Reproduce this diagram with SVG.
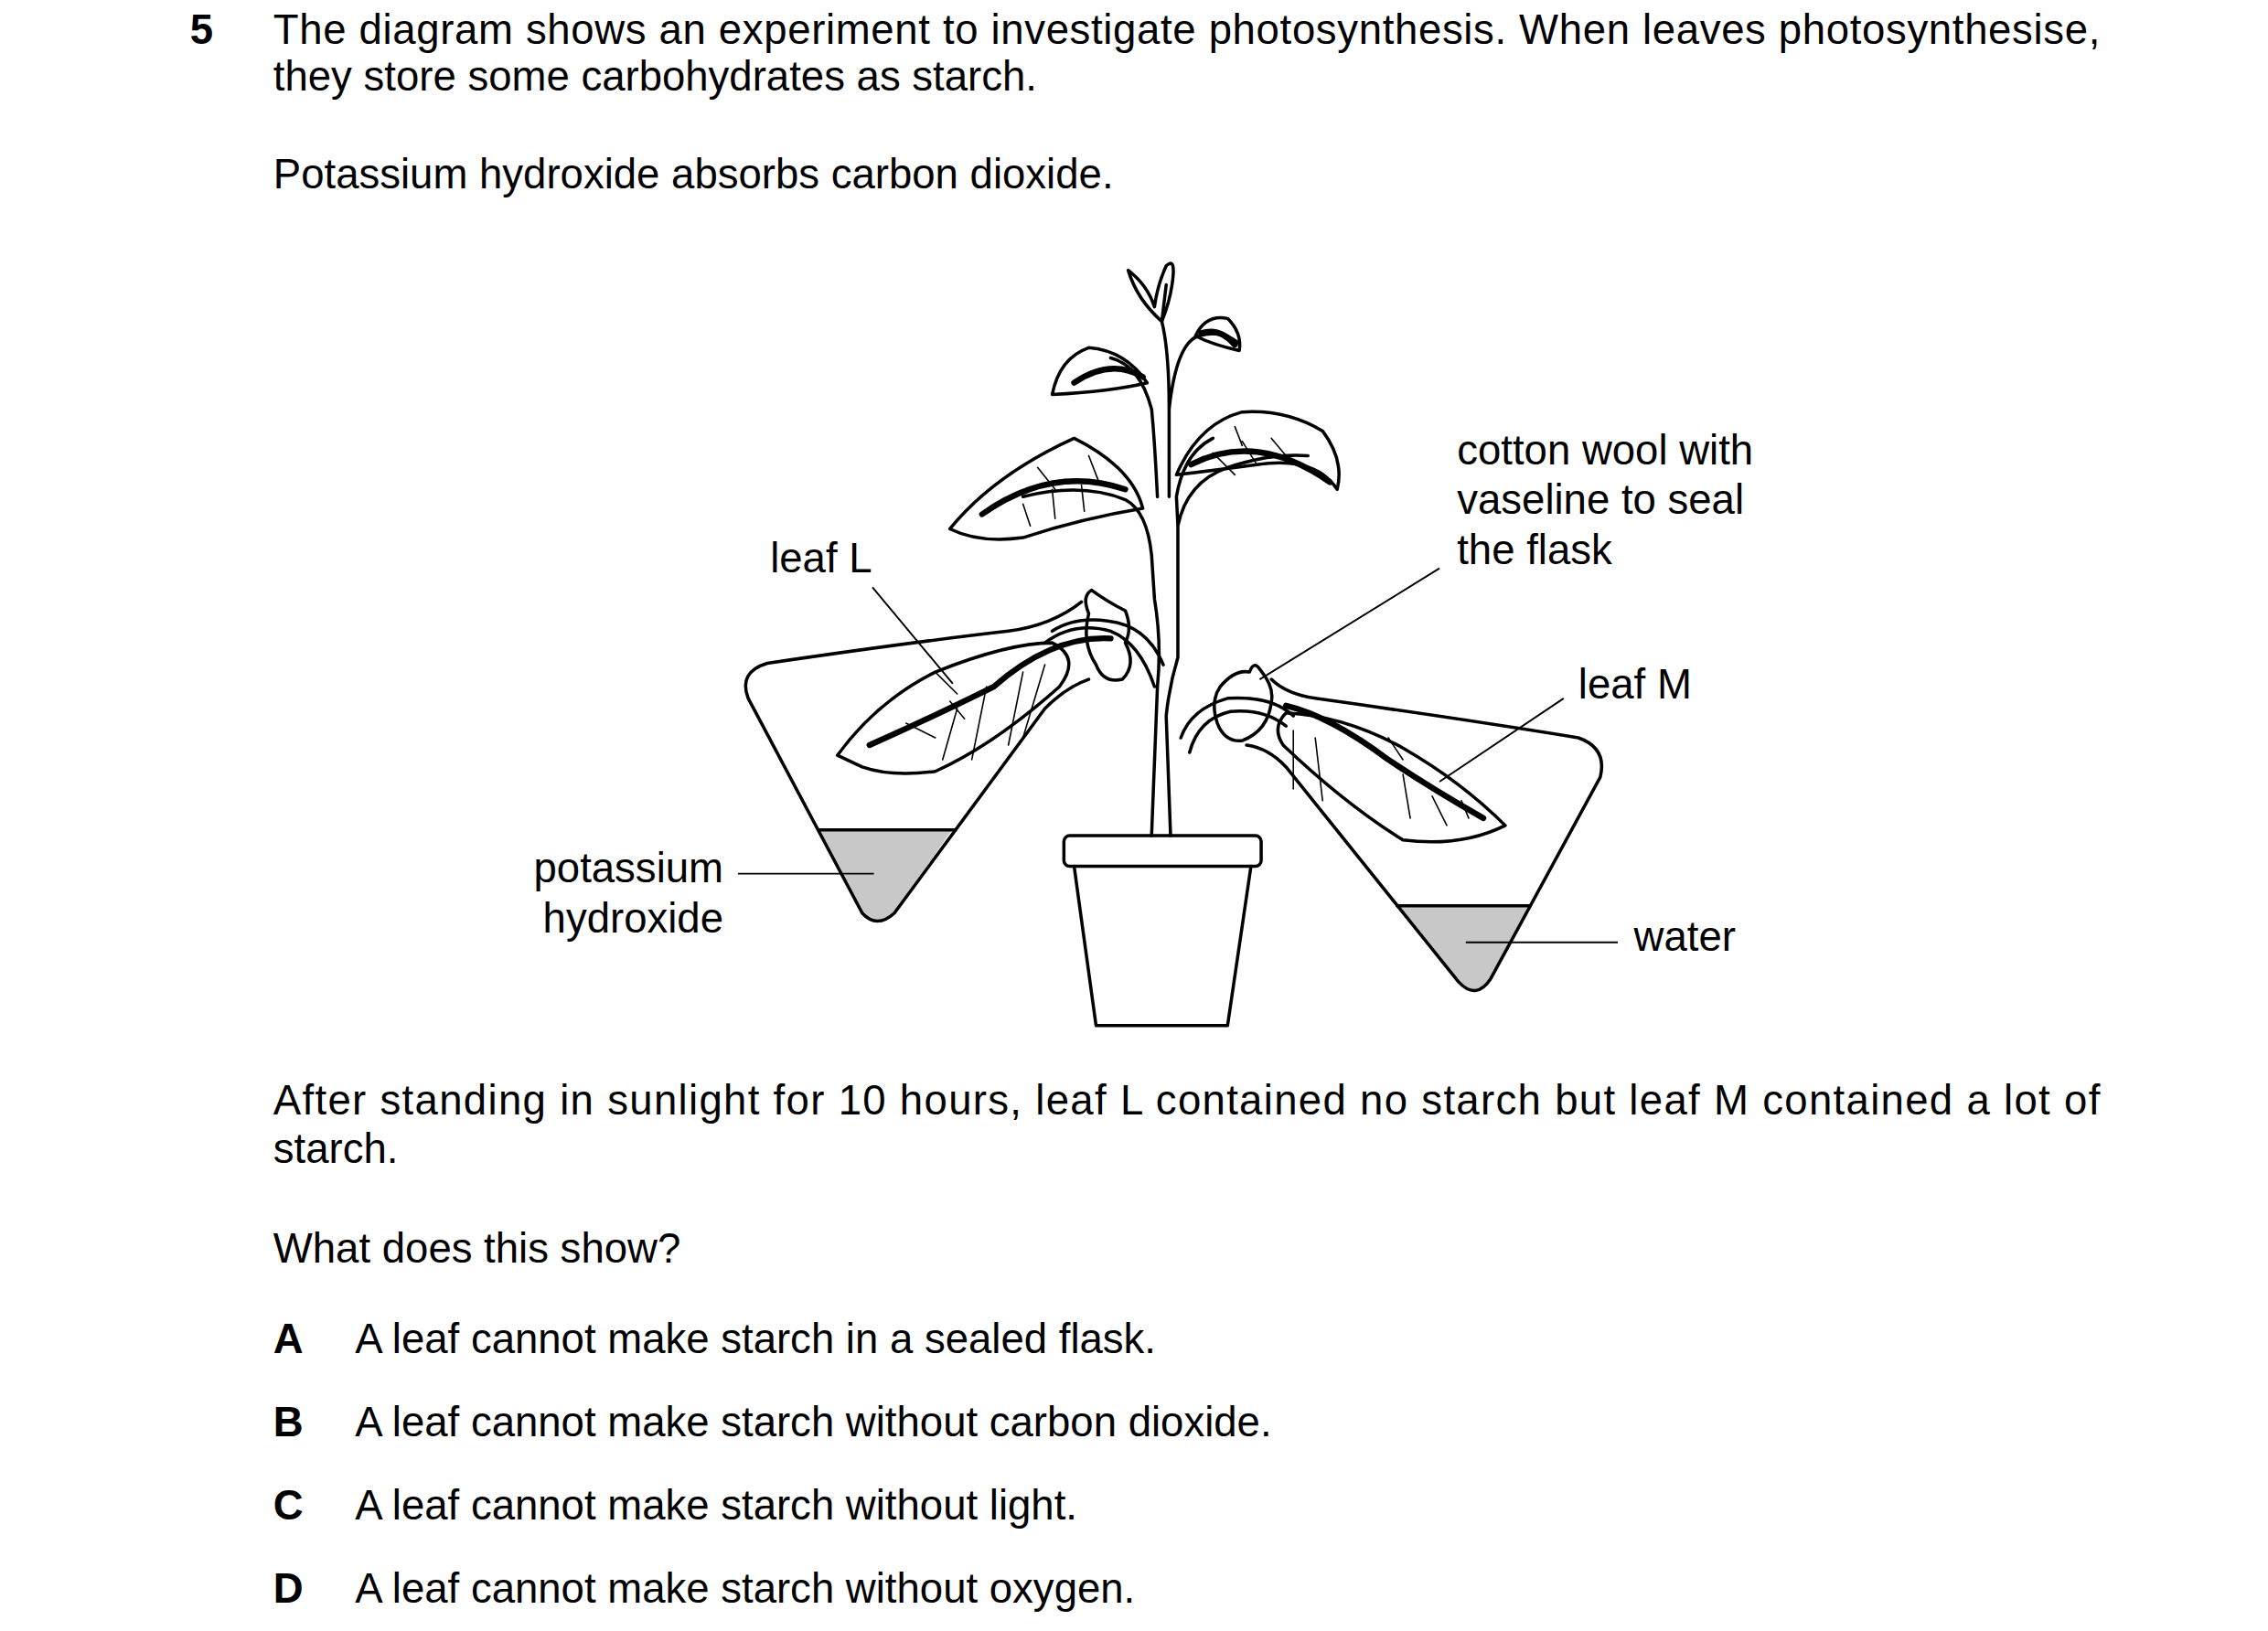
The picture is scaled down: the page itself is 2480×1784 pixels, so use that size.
<svg xmlns="http://www.w3.org/2000/svg" width="2480" height="1784" viewBox="0 0 2480 1784">
<style>
text{font-family:"Liberation Sans",Arial,sans-serif;font-size:28.5px;fill:#000}
.b{font-weight:bold}
.ln{fill:none;stroke:#000;stroke-width:2.2;stroke-linecap:round;stroke-linejoin:round}
.th{fill:none;stroke:#000;stroke-width:1;stroke-linecap:round}
.mr{fill:none;stroke:#000;stroke-width:4;stroke-linecap:round}
.ld{fill:none;stroke:#000;stroke-width:1.2}
.liq{fill:#c8c8c8;stroke:none}
</style>
<defs>
<clipPath id="cl"><path d="M740 440 L612 625 Q600 636 590 625 L512 478 Q505 460 525 454 L740 430 Z"/></clipPath>
<clipPath id="cr"><path d="M870 470 L1080 505 Q1100 512 1095 532 L1020 670 Q1010 685 998 672 L860 500 Z"/></clipPath>
</defs>
<rect width="2480" height="1784" fill="#fff"/>
<g transform="scale(1.598)">
<g id="question">
<text class="b" x="130" y="30">5</text>
<text x="187" y="30" textLength="1250" lengthAdjust="spacing">The diagram shows an experiment to investigate photosynthesis. When leaves photosynthesise,</text>
<text x="187" y="62">they store some carbohydrates as starch.</text>
<text x="187" y="129">Potassium hydroxide absorbs carbon dioxide.</text>
<text x="187" y="763" textLength="1250" lengthAdjust="spacing">After standing in sunlight for 10 hours, leaf L contained no starch but leaf M contained a lot of</text>
<text x="187" y="796">starch.</text>
<text x="187" y="864">What does this show?</text>
<text class="b" x="187" y="926">A</text><text x="243" y="926">A leaf cannot make starch in a sealed flask.</text>
<text class="b" x="187" y="983">B</text><text x="243" y="983">A leaf cannot make starch without carbon dioxide.</text>
<text class="b" x="187" y="1040">C</text><text x="243" y="1040">A leaf cannot make starch without light.</text>
<text class="b" x="187" y="1097">D</text><text x="243" y="1097">A leaf cannot make starch without oxygen.</text>
</g>
<g id="pot">
<rect class="ln" x="728" y="572" width="135" height="21" rx="4"/>
<path class="ln" d="M735 593 L750 702 L840 702 L856 593"/>
</g>
<g id="flask-left">
<rect class="liq" x="500" y="568" width="200" height="80" clip-path="url(#cl)"/>
<path class="ln" d="M561 568 L654 568"/>
<path class="ln" d="M745 465 Q730 470 715 485 L612 625 Q600 636 590 625 L512 478 Q505 460 525 454 Q620 440 690 432 Q720 428 740 412"/>
</g>
<g id="flask-right">
<rect class="liq" x="900" y="620" width="200" height="80" clip-path="url(#cr)"/>
<path class="ln" d="M956 620 L1047 620"/>
<path class="ln" d="M870 465 Q880 475 900 478 Q1000 492 1080 505 Q1100 512 1095 532 L1020 670 Q1010 685 998 672 L880 525 Q868 512 853 510"/>
</g>
<g id="plant">
<path class="ln" d="M788 572 L792 470 Q795 440 790 410 L788 380 Q785 350 770 342 Q740 330 700 340 M801 572 L798 490 Q800 470 806 450 L806 360 L805 340 Q810 310 830 300 M806 360 Q812 330 840 320 Q870 310 895 312 M792 340 Q790 300 788 280 Q780 250 760 245 M800 340 L800 280 Q800 240 795 220 M800 280 Q805 235 820 230 Q835 225 848 235 M795 220 L798 195"/>
<path class="ln" d="M650 362 Q680 325 735 300 Q775 320 782 348 Q740 355 700 368 Q670 372 650 362 Z"/>
<path class="mr" d="M672 352 Q720 318 770 335"/>
<path class="th" d="M700 345 L705 360 M720 335 L722 355 M740 332 L742 350 M710 320 L722 335 M745 312 L752 330"/>
<path class="ln" d="M805 325 Q820 290 850 282 Q880 280 905 295 Q920 315 915 335 Q900 312 860 318 Q830 322 805 325 Z"/>
<path class="mr" d="M815 318 Q860 295 910 330"/>
<path class="th" d="M830 310 L845 325 M850 302 L860 318 M870 300 L880 312 M845 292 L850 305"/>
<path class="ln" d="M720 270 Q725 245 745 238 Q770 240 785 262 Q760 268 720 270 Z"/>
<path class="mr" d="M735 262 Q760 245 782 258"/>
<path class="ln" d="M818 230 Q825 215 840 218 Q850 228 848 240 Q830 236 818 230 Z"/>
<path class="mr" d="M822 228 Q835 224 845 236"/>
<path class="ln" d="M795 220 Q778 205 772 185 Q785 195 790 210 Q792 195 798 182 Q805 175 802 195 Q800 208 795 220"/>
<path class="ln" d="M573 517 Q600 480 640 460 Q690 440 720 440 Q740 450 725 470 Q680 510 640 528 Q610 532 590 525 Z"/>
<path class="mr" d="M595 510 Q640 490 680 470 Q720 435 760 437"/>
<path class="ln" d="M790 470 Q780 440 760 432 Q735 425 715 440 M796 455 Q785 428 758 425 Q735 422 720 432"/>
<path class="th" d="M620 495 L640 505 M650 480 L660 492 M700 460 L690 510 M715 455 L700 505 M675 470 L665 520 M655 485 L645 520 M640 460 L655 475"/>
<path class="ln" d="M745 420 Q740 408 747 404 Q758 412 770 418 Q775 430 770 440 Q778 455 768 465 Q755 468 750 455 Q740 440 745 420 Z"/>
<path class="ln" d="M1030 565 Q1000 535 960 512 Q920 490 880 488 Q870 498 878 510 Q920 550 960 575 Q1000 580 1030 565 Z"/>
<path class="mr" d="M1015 560 Q980 540 950 520 Q910 490 880 483"/>
<path class="ln" d="M808 505 Q815 485 840 478 Q870 476 885 490 M814 515 Q820 492 842 487 Q865 485 880 497"/>
<path class="th" d="M885 500 L885 540 M900 505 L905 548 M960 530 L965 560 M980 545 L990 565 M950 505 L960 520 M1000 548 L1005 560"/>
<path class="ln" d="M835 470 Q845 458 855 460 Q858 452 862 458 Q872 470 870 480 Q868 500 850 507 Q838 508 833 495 Q828 480 835 470 Z"/>
</g>
<g id="connectors">
<path class="ld" d="M597 402 L652 468 M985 389 L862 465 M1070 478 L985 535 M505 598 L598 598 M1003 645 L1107 645"/>
</g>
<g id="labels">
<text x="527" y="392">leaf L</text>
<text x="997" y="318">cotton wool with</text>
<text x="997" y="352">vaseline to seal</text>
<text x="997" y="386">the flask</text>
<text x="1080" y="478">leaf M</text>
<text x="495" y="604" text-anchor="end">potassium</text>
<text x="495" y="638" text-anchor="end">hydroxide</text>
<text x="1118" y="651">water</text>
</g>
</g>
</svg>
